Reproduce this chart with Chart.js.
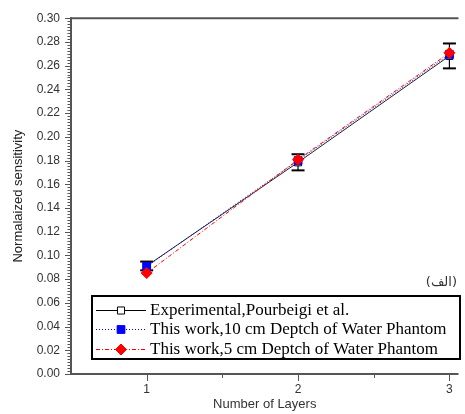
<!DOCTYPE html>
<html><head><meta charset="utf-8">
<script src="https://cdn.jsdelivr.net/npm/chart.js@4.4.1/dist/chart.umd.min.js"></script>
<style>html,body{margin:0;padding:0;background:#fff}canvas{display:block}</style>
</head><body>
<canvas id="c" width="465" height="414"></canvas>
<script>
const layers = [1, 2, 3];
const experimental = [0.0911, 0.1785, 0.2682];
const experimentalErr = [0.0037, 0.0068, 0.0105];
const water10cm = [0.0907, 0.1800, 0.2695];
const water5cm = [0.0851, 0.1807, 0.2708];
const xTicks = [1, 2, 3];
const xMinorTicks = [1.5, 2.5];
const yTickStep = 0.02;
const yMinorStep = 0.0025;
const legendLabels = ['Experimental,Pourbeigi et al.', 'This work,10 cm Deptch of Water Phantom', 'This work,5 cm Deptch of Water Phantom'];
const panelLabel = '(الف)';

const toXY = arr => layers.map((x, i) => ({x: x, y: arr[i]}));

const AXIS = '#555';
const TXT = '#333';

function strokeSeg(ctx, x1, y1, x2, y2, color, w, dash) {
  ctx.save();
  ctx.strokeStyle = color; ctx.lineWidth = w; ctx.setLineDash(dash || []);
  ctx.beginPath(); ctx.moveTo(x1, y1); ctx.lineTo(x2, y2); ctx.stroke();
  ctx.restore();
}

const extras = {
  id: 'extras',
  beforeDatasetsDraw(chart) {
    const ctx = chart.ctx, xs = chart.scales.x, ys = chart.scales.y;
    layers.forEach((lx, i) => {
      const px = xs.getPixelForValue(lx);
      const hi = ys.getPixelForValue(experimental[i] + experimentalErr[i]);
      const lo = ys.getPixelForValue(experimental[i] - experimentalErr[i]);
      strokeSeg(ctx, px, hi, px, lo, '#000', 1.2);
      strokeSeg(ctx, px - 6.5, hi, px + 6.5, hi, '#000', 2);
      strokeSeg(ctx, px - 6.5, lo, px + 6.5, lo, '#000', 2);
    });
  },
  afterDraw(chart) {
    const ctx = chart.ctx, xs = chart.scales.x, ys = chart.scales.y;
    const a = chart.chartArea;
    strokeSeg(ctx, a.left, a.top - 1, a.left, a.bottom + 1, AXIS, 2);
    strokeSeg(ctx, a.left - 1, a.bottom, a.right, a.bottom, AXIS, 2);
    strokeSeg(ctx, a.left - 1, a.top, a.right, a.top, AXIS, 2);
    const nMinor = Math.round(0.3 / yMinorStep);
    const per = Math.round(yTickStep / yMinorStep);
    for (let k = 0; k <= nMinor; k++) {
      const v = k * yMinorStep;
      const py = Math.round(ys.getPixelForValue(v)) + 0.5;
      const major = (k % per) === 0;
      strokeSeg(ctx, a.left - (major ? 6 : 3.5), py, a.left, py, AXIS, 1);
    }
    xTicks.forEach(v => {
      const px = Math.round(xs.getPixelForValue(v)) + 0.5;
      strokeSeg(ctx, px, a.bottom, px, a.bottom + 7, AXIS, 1);
    });
    xMinorTicks.forEach(v => {
      const px = Math.round(xs.getPixelForValue(v)) + 0.5;
      strokeSeg(ctx, px, a.bottom, px, a.bottom + 4, AXIS, 1);
    });
    ctx.save();
    ctx.font = '13px "DejaVu Sans"';
    ctx.fillStyle = TXT;
    ctx.textAlign = 'right'; ctx.textBaseline = 'middle';
    ctx.fillText(panelLabel, 457, 283);
    ctx.restore();
    const bx = 92, by = 296, bw = 368, bh = 63;
    ctx.save();
    ctx.fillStyle = '#fff';
    ctx.fillRect(bx, by, bw, bh);
    ctx.strokeStyle = '#000'; ctx.lineWidth = 2;
    ctx.strokeRect(bx, by, bw, bh);
    ctx.restore();
    const rows = [310.5, 329.5, 349.5];
    const ds = chart.data.datasets;
    rows.forEach((ry, i) => {
      const d = ds[i];
      strokeSeg(ctx, 96, ry, 146, ry, i === 0 ? '#000' : d.borderColor, 1, d.borderDash);
      ctx.save();
      ctx.fillStyle = d.pointBackgroundColor;
      ctx.strokeStyle = d.pointBorderColor;
      ctx.lineWidth = 1;
      ctx.setLineDash([]);
      Chart.helpers.drawPoint(ctx, {pointStyle: d.pointStyle, radius: d.pointRadius, rotation: 0, borderWidth: 1}, 121, ry);
      ctx.restore();
      ctx.save();
      ctx.font = '17px "Liberation Serif"';
      ctx.fillStyle = '#000';
      ctx.textAlign = 'left'; ctx.textBaseline = 'middle';
      ctx.fillText(legendLabels[i], 150, ry + 0.5);
      ctx.restore();
    });
  }
};

new Chart(document.getElementById('c'), {
  type: 'line',
  data: {
    datasets: [
      {label: legendLabels[0], data: toXY(experimental), borderColor: '#222', borderWidth: 1,
       pointStyle: 'rect', pointRadius: 5, pointBackgroundColor: '#fff', pointBorderColor: '#000',
       pointBorderWidth: 1, order: 2},
      {label: legendLabels[1], data: toXY(water10cm), borderColor: '#0000ff', borderWidth: 1,
       borderDash: [1, 2], pointStyle: 'rect', pointRadius: 5.5, pointBackgroundColor: '#0000ff',
       pointBorderColor: '#0000ff', pointBorderWidth: 1, order: 1},
      {label: legendLabels[2], data: toXY(water5cm), borderColor: '#ff0000', borderWidth: 1,
       borderDash: [4, 2, 1, 2], pointStyle: 'rectRot', pointRadius: 5.5, pointBackgroundColor: '#ff0000',
       pointBorderColor: '#ff0000', pointBorderWidth: 1, order: 0}
    ]
  },
  options: {
    responsive: false, animation: false, devicePixelRatio: 1,
    layout: {padding: {top: 10, right: 0, left: 0, bottom: 0}},
    plugins: {legend: {display: false}, tooltip: {enabled: false}},
    scales: {
      x: {
        type: 'linear', min: 0.5, max: 3.06, offset: false,
        afterFit: s => { s.height = 40; },
        afterBuildTicks: s => { s.ticks = xTicks.map(v => ({value: v})); },
        grid: {display: true, drawOnChartArea: false, drawTicks: false, color: 'transparent'},
        border: {display: false},
        ticks: {padding: 8, color: TXT, font: {family: '"Liberation Sans"', size: 12},
                maxRotation: 0, autoSkip: false, callback: v => String(v)},
        title: {display: true, text: 'Number of Layers', color: TXT,
                font: {family: '"Liberation Sans"', size: 13}, padding: {top: 0, bottom: 2}}
      },
      y: {
        type: 'linear', min: 0, max: 0.3,
        afterFit: s => { s.width = 71; },
        grid: {display: true, drawOnChartArea: false, drawTicks: false, color: 'transparent'},
        border: {display: false},
        ticks: {stepSize: yTickStep, padding: 11, color: TXT,
                font: {family: '"Liberation Sans"', size: 12}, callback: v => v.toFixed(2)},
        title: {display: true, text: 'Normalaized sensitivity', color: '#222',
                font: {family: '"Liberation Sans"', size: 13}, padding: {top: 11, bottom: 0}}
      }
    }
  },
  plugins: [extras]
});
</script>
</body></html>
